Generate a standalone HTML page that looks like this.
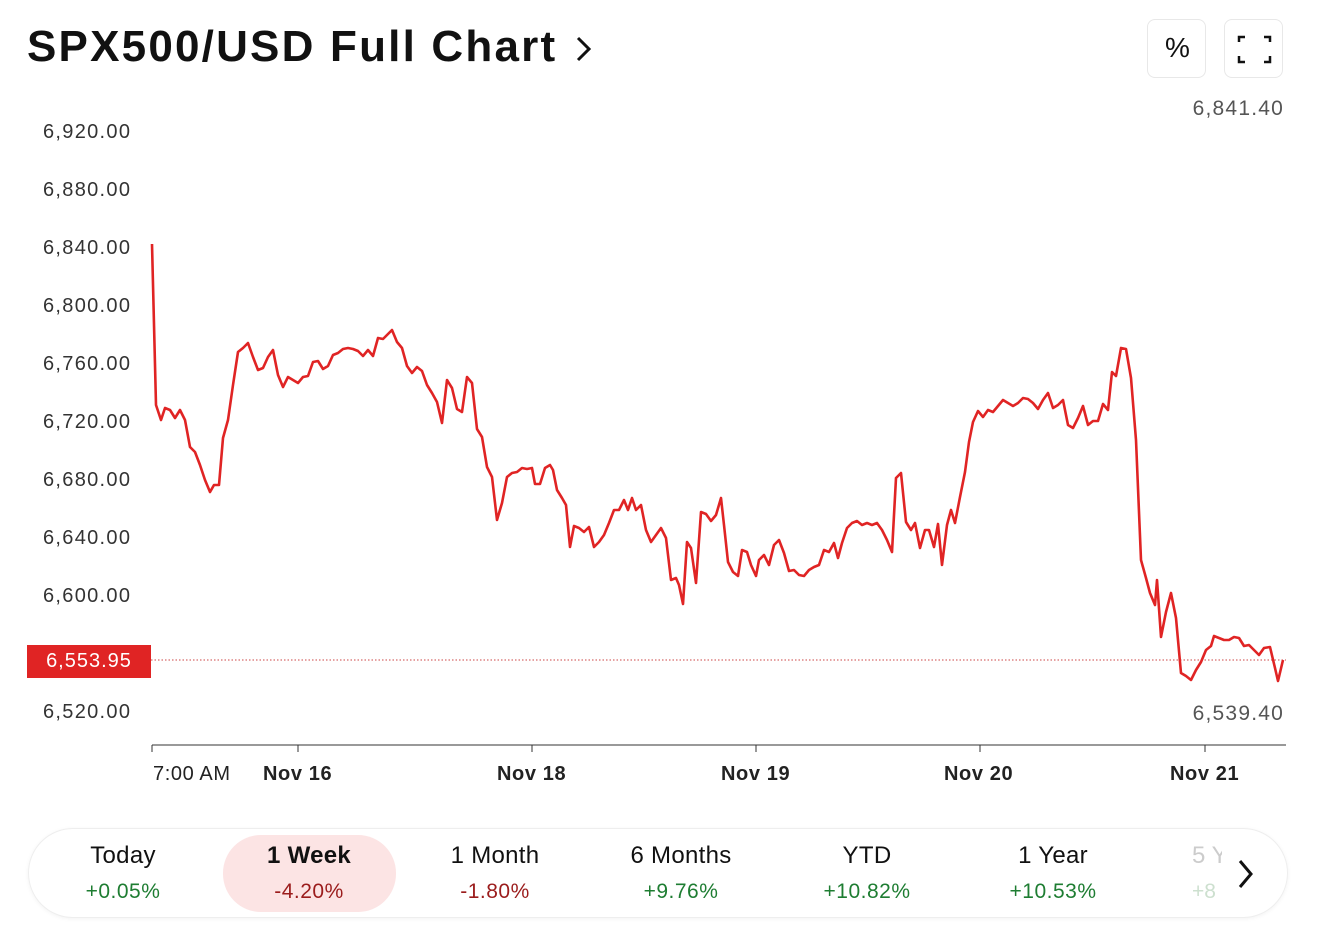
<!DOCTYPE html>
<html><head><style>
body{margin:0;width:1317px;height:950px;background:#fff;font-family:"Liberation Sans",sans-serif;position:relative;overflow:hidden}
.t{position:absolute;white-space:nowrap}
.btn{position:absolute;top:19px;width:59px;height:59px;border:1px solid #e8e8e8;border-radius:8px;box-sizing:border-box}
.tab{position:absolute;text-align:center;width:170px}
.tab .a{font-size:24px;color:#111;letter-spacing:0.3px}
.tab .b{font-size:21px;margin-top:10px;letter-spacing:0.5px}
.g{color:#1e7d32}.r{color:#9b1c1c}
</style></head><body>
<div class="t" style="left:27px;top:22px;font-size:44px;font-weight:bold;color:#111;letter-spacing:2.2px">SPX500/USD Full Chart</div>
<svg class="t" style="left:572px;top:34px" width="24" height="30"><path d="M6 4 L17 15 L6 26" fill="none" stroke="#111" stroke-width="3"/></svg>
<div class="btn" style="left:1147px"><div class="t" style="left:17px;top:12px;font-size:28px;color:#111">%</div></div>
<div class="btn" style="left:1224px"><svg width="59" height="59"><path d="M14 22V17h6M39 17h6v5M45 36v6h-6M20 42h-6v-6" fill="none" stroke="#111" stroke-width="2.5"/></svg></div>
<div class="t" style="right:33px;top:97px;font-size:21px;color:#555;letter-spacing:1.2px">6,841.40</div>
<div class="t" style="right:33px;top:702px;font-size:21px;color:#555;letter-spacing:1.2px">6,539.40</div>
<div style="position:absolute;left:0;top:1px;font-size:20px;color:#333;letter-spacing:1.3px">
<div class="t" style="left:43px;top:120px">6,920.00</div>
<div class="t" style="left:43px;top:178px">6,880.00</div>
<div class="t" style="left:43px;top:236px">6,840.00</div>
<div class="t" style="left:43px;top:294px">6,800.00</div>
<div class="t" style="left:43px;top:352px">6,760.00</div>
<div class="t" style="left:43px;top:410px">6,720.00</div>
<div class="t" style="left:43px;top:468px">6,680.00</div>
<div class="t" style="left:43px;top:526px">6,640.00</div>
<div class="t" style="left:43px;top:584px">6,600.00</div>
<div class="t" style="left:43px;top:700px">6,520.00</div>
</div>
<div class="t" style="left:27px;top:645px;width:124px;height:33px;background:#e02424;color:#fff;font-size:20px;line-height:33px;text-align:center;letter-spacing:1px">6,553.95</div>
<svg class="t" style="left:0;top:0" width="1317" height="800">
<line x1="151" y1="660" x2="1286" y2="660" stroke="#c44" stroke-width="1" stroke-dasharray="1.5,2"/>
<line x1="152" y1="745" x2="1286" y2="745" stroke="#333" stroke-width="1"/>
<g stroke="#333"><line x1="152" y1="745" x2="152" y2="752"/><line x1="298" y1="745" x2="298" y2="752"/><line x1="532" y1="745" x2="532" y2="752"/><line x1="756" y1="745" x2="756" y2="752"/><line x1="980" y1="745" x2="980" y2="752"/><line x1="1205" y1="745" x2="1205" y2="752"/></g>
<polyline fill="none" stroke="#e02424" stroke-width="2.6" stroke-linejoin="round" points="152,244 156,405 161,420 165,408 170,410 175,418 180,410 185,420 190,447 195,452 200,465 205,480 210,492 214,485 219,485 223,438 228,420 233,385 238,352 243,348 248,343 253,357 258,370 263,368 268,357 273,350 278,375 283,387 288,377 293,380 298,383 303,377 308,376 313,362 318,361 323,369 328,366 333,355 338,353 343,349 348,348 353,349 358,351 363,356 368,350 373,356 378,338 383,339 388,334 392,330 397,342 402,348 407,366 412,373 417,367 422,371 427,385 432,393 437,402 442,423 447,380 452,388 457,409 462,412 467,377 472,383 477,429 482,437 487,467 492,477 497,520 502,503 507,477 512,473 517,472 522,468 527,469 532,468 535,484 540,484 545,468 550,465 553,470 557,490 562,498 566,505 570,547 574,526 579,528 584,532 589,527 594,547 599,542 604,535 609,523 614,510 619,510 624,500 628,510 632,498 636,510 641,505 646,530 651,542 656,535 661,528 666,538 671,580 676,578 679,585 683,604 687,542 691,548 696,583 701,512 706,514 711,521 716,515 721,498 724,525 728,562 733,572 738,576 742,550 747,552 751,565 756,576 759,560 764,555 769,565 774,545 779,540 784,553 789,571 794,570 799,575 804,576 809,570 814,567 819,565 824,550 829,552 834,543 838,558 842,543 847,528 852,523 857,521 862,525 867,523 872,525 877,523 882,530 887,540 892,552 896,478 901,473 906,522 911,530 915,523 920,548 925,530 929,530 934,547 938,524 942,565 947,525 951,510 955,523 960,497 965,472 969,442 973,422 978,411 983,417 988,410 993,412 998,406 1003,400 1008,403 1013,406 1018,403 1023,398 1028,399 1033,403 1038,409 1043,400 1048,393 1053,408 1058,405 1063,400 1068,425 1073,428 1078,418 1083,406 1088,425 1093,421 1098,421 1103,404 1108,410 1112,372 1116,376 1121,348 1126,349 1131,378 1136,440 1141,560 1146,578 1150,593 1155,605 1157,580 1161,637 1166,612 1171,593 1176,618 1181,673 1186,676 1191,680 1196,670 1201,662 1206,650 1211,646 1214,636 1219,638 1224,640 1229,640 1234,637 1239,638 1244,646 1249,645 1254,650 1259,655 1264,648 1270,647 1275,668 1278,681 1283,660"/>
</svg>
<div style="position:absolute;left:0;top:1px;font-size:20px;color:#222;letter-spacing:0.6px">
<div class="t" style="left:153px;top:762px">7:00 AM</div>
<div class="t" style="left:263px;top:762px;font-weight:bold">Nov 16</div>
<div class="t" style="left:497px;top:762px;font-weight:bold">Nov 18</div>
<div class="t" style="left:721px;top:762px;font-weight:bold">Nov 19</div>
<div class="t" style="left:944px;top:762px;font-weight:bold">Nov 20</div>
<div class="t" style="left:1170px;top:762px;font-weight:bold">Nov 21</div>
</div>
<div style="position:absolute;left:28px;top:828px;width:1260px;height:90px;border:1px solid #eee;border-radius:45px;box-sizing:border-box;box-shadow:0 1px 4px rgba(0,0,0,.05)"></div>
<div style="position:absolute;left:223px;top:835px;width:173px;height:77px;background:#fce4e4;border-radius:38px"></div>
<div class="tab" style="left:38px;top:842px"><div class="a">Today</div><div class="b g">+0.05%</div></div>
<div class="tab" style="left:224px;top:842px"><div class="a" style="font-weight:bold">1 Week</div><div class="b r">-4.20%</div></div>
<div class="tab" style="left:410px;top:842px"><div class="a">1 Month</div><div class="b r">-1.80%</div></div>
<div class="tab" style="left:596px;top:842px"><div class="a">6 Months</div><div class="b g">+9.76%</div></div>
<div class="tab" style="left:782px;top:842px"><div class="a">YTD</div><div class="b g">+10.82%</div></div>
<div class="tab" style="left:968px;top:842px"><div class="a">1 Year</div><div class="b g">+10.53%</div></div>
<div class="t" style="left:1192px;top:842px;font-size:24px;color:#ccc;width:30px;overflow:hidden">5 Y</div>
<div class="t" style="left:1192px;top:880px;font-size:21px;color:#cde0cf;width:30px;overflow:hidden">+8</div>
<svg class="t" style="left:1236px;top:858px" width="20" height="32"><path d="M4 3 L15 16 L4 29" fill="none" stroke="#111" stroke-width="3"/></svg>
</body></html>
